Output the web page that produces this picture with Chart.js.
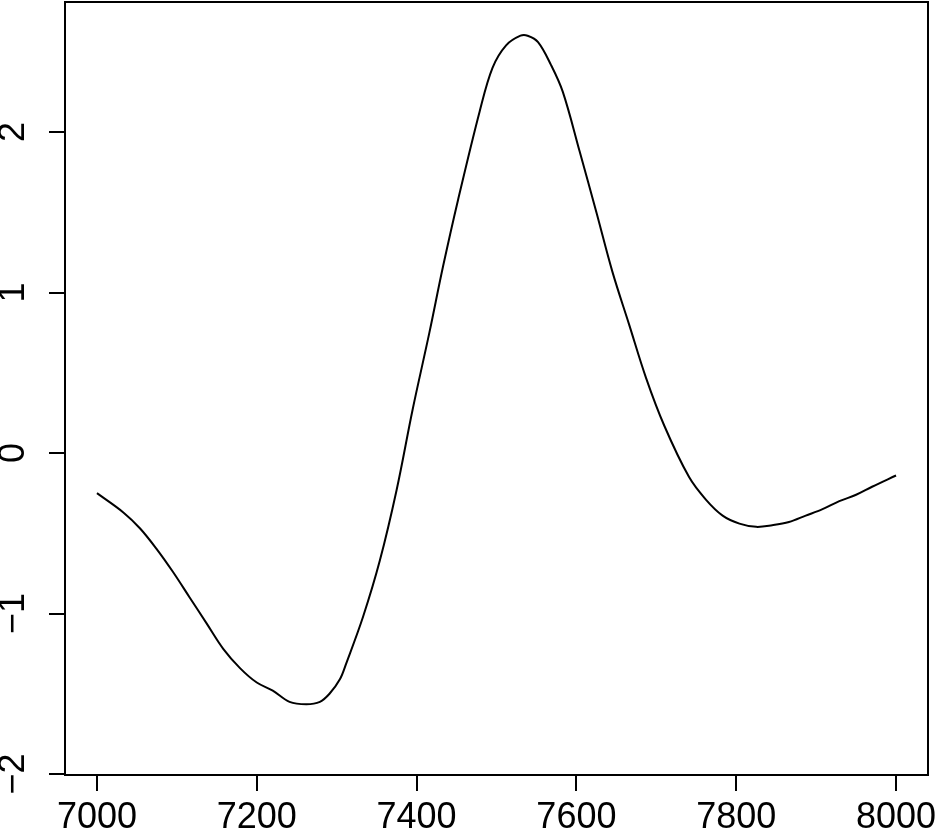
<!DOCTYPE html>
<html>
<head>
<meta charset="utf-8">
<script src="https://cdn.jsdelivr.net/npm/chart.js@4/dist/chart.umd.min.js"></script>
<style>
  html, body { margin: 0; padding: 0; background: #fff; }
  #wrap { width: 938px; height: 832px; }
</style>
</head>
<body>
<div id="wrap"><canvas id="myChart" width="938" height="832"></canvas></div>
<script>
// values
var xValues = [7000, 7033, 7054, 7075, 7095, 7116, 7137, 7158, 7179, 7200, 7220, 7241, 7262, 7279, 7291, 7304, 7312, 7333, 7354, 7375, 7395, 7416, 7433, 7452, 7479, 7495, 7512, 7530, 7539, 7552, 7568, 7583, 7604, 7625, 7645, 7666, 7687, 7710, 7741, 7762, 7783, 7804, 7825, 7845, 7866, 7887, 7908, 7929, 7950, 7970, 8000];
var yValues = [-0.25, -0.37, -0.47, -0.6, -0.74, -0.9, -1.06, -1.22, -1.34, -1.43, -1.48, -1.55, -1.565, -1.55, -1.5, -1.41, -1.31, -1.02, -0.67, -0.23, 0.27, 0.75, 1.16, 1.58, 2.13, 2.4, 2.54, 2.6, 2.6, 2.56, 2.42, 2.25, 1.88, 1.5, 1.13, 0.8, 0.47, 0.17, -0.15, -0.29, -0.39, -0.44, -0.46, -0.45, -0.43, -0.39, -0.35, -0.3, -0.26, -0.21, -0.14];
var xTicks = [7000, 7200, 7400, 7600, 7800, 8000];
var yTicks = [-2, -1, 0, 1, 2];

var points = [];
for (var i = 0; i < xValues.length; i++) {
  points.push({ x: xValues[i], y: yValues[i] });
}

// box around the plot region, like R's box()
var boxPlugin = {
  id: "box",
  afterDraw: function (chart) {
    var a = chart.chartArea;
    var ctx = chart.ctx;
    ctx.save();
    ctx.strokeStyle = "#000";
    ctx.lineWidth = 2;
    ctx.strokeRect(a.left, a.top, a.right - a.left, a.bottom - a.top);
    ctx.restore();
  }
};

function noPadding(scale) {
  scale.paddingTop = 0;
  scale.paddingBottom = 0;
  scale.paddingLeft = 0;
  scale.paddingRight = 0;
}

var font = { family: "'Liberation Sans', Arial, Helvetica, sans-serif", size: 36 };

new Chart(document.getElementById("myChart").getContext("2d"), {
  type: "line",
  data: {
    datasets: [{
      data: points,
      borderColor: "#000",
      borderWidth: 2,
      pointRadius: 0,
      fill: false,
      tension: 0.35
    }]
  },
  options: {
    responsive: false,
    animation: false,
    layout: { padding: { top: 2, right: 10, left: 0, bottom: 0 } },
    plugins: { legend: { display: false }, tooltip: { enabled: false } },
    scales: {
      x: {
        type: "linear",
        min: 6960,
        max: 8040,
        afterBuildTicks: function (scale) {
          scale.ticks = xTicks.map(function (v) { return { value: v }; });
        },
        afterFit: function (scale) { scale.height = 57; noPadding(scale); },
        border: { display: false },
        grid: { drawOnChartArea: false, drawTicks: true, tickLength: 16, color: "#000", lineWidth: 2 },
        ticks: {
          color: "#000", font: font, padding: 5, maxRotation: 0, autoSkip: false,
          callback: function (v) { return String(v); }
        }
      },
      y: {
        type: "linear",
        min: -2.006,
        max: 2.81,
        afterBuildTicks: function (scale) {
          scale.ticks = yTicks.map(function (v) { return { value: v }; });
        },
        afterFit: function (scale) { scale.width = 65; noPadding(scale); },
        border: { display: false },
        grid: { drawOnChartArea: false, drawTicks: true, tickLength: 16, color: "#000", lineWidth: 2 },
        ticks: {
          color: "#000", font: font, padding: 14, crossAlign: "center",
          minRotation: 90, maxRotation: 90, autoSkip: false,
          callback: function (v) { return v < 0 ? "\u2212" + Math.abs(v) : String(v); }
        }
      }
    }
  },
  plugins: [boxPlugin]
});
</script>
</body>
</html>
